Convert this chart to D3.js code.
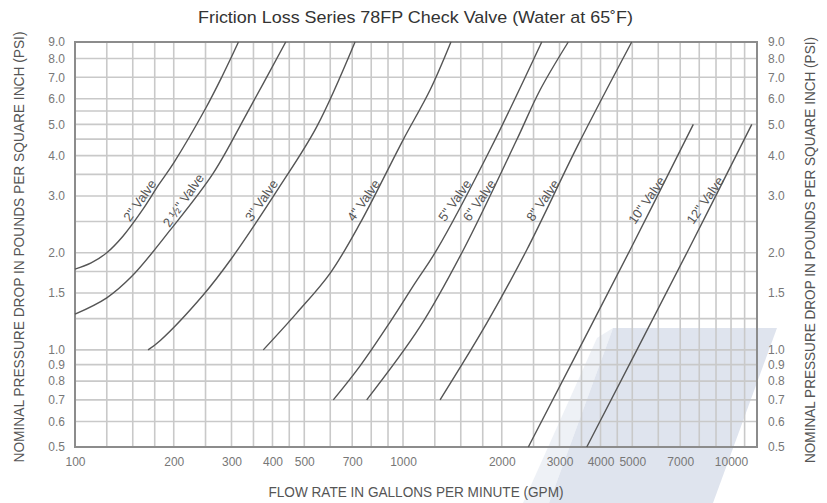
<!DOCTYPE html>
<html><head><meta charset="utf-8">
<script src="https://cdn.jsdelivr.net/npm/d3@7"></script>
<style>body{margin:0;background:#fff}svg{display:block}</style>
</head><body><svg id="c" width="827" height="503"></svg>
<script>
const title = "Friction Loss Series 78FP Check Valve (Water at 65˚F)";
const xAxisTitle = "FLOW RATE IN GALLONS PER MINUTE (GPM)";
const yAxisTitle = "NOMINAL PRESSURE DROP IN POUNDS PER SQUARE INCH (PSI)";

const xTickValues = [100,200,300,400,500,700,1000,2000,3000,4000,5000,7000,10000];
const xGridValues = [100,125,150,175,200,250,300,350,400,450,500,600,700,800,900,
                     1000,1250,1500,1750,2000,2500,3000,3500,4000,4500,5000,6000,7000,8000,9000,10000,11000];
const yTickValues = [0.5,0.6,0.7,0.8,0.9,1.0,1.5,2.0,3.0,4.0,5.0,6.0,7.0,8.0,9.0];
const yGridValues = [0.5,0.6,0.7,0.8,0.9,1.0,1.25,1.5,1.75,2.0,2.5,3.0,3.5,4.0,4.5,5.0,5.5,6.0,7.0,8.0,9.0];

const valveNames = ['2" Valve','2 ½" Valve','3" Valve','4" Valve','5" Valve','6" Valve','8" Valve','10" Valve','12" Valve'];

const flow2   = [100,112,125,140,160,180,200,250,280,315];
const psi2    = [1.78,1.86,2.0,2.25,2.7,3.25,3.8,5.6,7.0,9.0];
const flow2h  = [100,125,149,195,264,334,439];
const psi2h   = [1.29,1.45,1.69,2.35,3.53,5.4,9.0];
const flow3   = [167,182,246,300,420,546,714];
const psi3    = [1.0,1.07,1.48,1.92,3.2,4.92,9.0];
const flow4   = [375,474,600,740,1000,1210,1400];
const psi4    = [1.0,1.3,1.73,2.47,4.47,6.4,9.0];
const flow5   = [613,739,913,1088,1267,1842,2648];
const psi5    = [0.7,0.891,1.22,1.61,2.04,4.17,9.0];
const flow6   = [775,1127,1527,2220,2617,3190];
const psi6    = [0.7,1.18,2.04,4.47,6.39,9.0];
const flow8   = [1297,1800,2383,3417,4980];
const psi8    = [0.7,1.21,2.04,4.32,9.0];
const flow10  = [2410,4923,7674];
const psi10   = [0.5,2.04,5.0];
const flow12  = [3632,7410,11570];
const psi12   = [0.5,2.04,5.0];

const labelPsi = 2.82;

const flows = [flow2,flow2h,flow3,flow4,flow5,flow6,flow8,flow10,flow12];
const psis  = [psi2,psi2h,psi3,psi4,psi5,psi6,psi8,psi10,psi12];
const series = valveNames.map((n,i)=>({name:n, pts: flows[i].map((f,j)=>({f, p: psis[i][j]}))}));

const svg = d3.select("#c");
const W = 827, H = 503;
const x = d3.scaleLog().domain([100,12000]).range([75,757]);
const y = d3.scaleLog().domain([0.5,9]).range([447,42]);

const font = "'Liberation Sans',Arial,sans-serif";

svg.append("rect").attr("width",W).attr("height",H).attr("fill","#fff");

// watermark (background decoration)
svg.append("polygon").attr("points","597,338 613,328 549,503 523,503").attr("fill","#eef1f6");
svg.append("polygon").attr("points","613,328 777,328 713,503 549,503").attr("fill","#dfe4ee");

const grid = svg.append("g").attr("stroke","#c9c9c9").attr("stroke-width",1.6);
grid.selectAll("line.v").data(xGridValues).join("line").attr("class","v")
  .attr("x1",d=>x(d)).attr("x2",d=>x(d)).attr("y1",y(0.5)).attr("y2",y(9));
grid.selectAll("line.h").data(yGridValues).join("line").attr("class","h")
  .attr("y1",d=>y(d)).attr("y2",d=>y(d)).attr("x1",x(100)).attr("x2",x(12000));

svg.append("rect").attr("x",x(100)).attr("y",y(9)).attr("width",x(12000)-x(100)).attr("height",y(0.5)-y(9))
  .attr("fill","none").attr("stroke","#8c8c8c").attr("stroke-width",2);

const line = d3.line().x(d=>x(d.f)).y(d=>y(d.p)).curve(d3.curveCatmullRom.alpha(0.5));
svg.append("g").selectAll("path").data(series).join("path")
  .attr("d",d=>line(d.pts)).attr("fill","none").attr("stroke","#555").attr("stroke-width",1.4);

function pointAt(pts, p){
  for(let i=0;i<pts.length-1;i++){
    const a=pts[i], b=pts[i+1];
    if(a.p<=p && b.p>=p){
      const t=(Math.log(p)-Math.log(a.p))/(Math.log(b.p)-Math.log(a.p));
      const lf=Math.log(a.f)+t*(Math.log(b.f)-Math.log(a.f));
      return [x(Math.exp(lf)), y(p)];
    }
  }
  return [x(pts[0].f), y(pts[0].p)];
}
svg.append("g").selectAll("text").data(series).join("text")
  .attr("transform",d=>{const [px,py]=pointAt(d.pts,labelPsi);return `translate(${px},${py}) rotate(-55)`;})
  .attr("dy",-3).attr("text-anchor","middle")
  .attr("font-family",font).attr("font-size",13).attr("fill","#555")
  .text(d=>d.name);

// axis tick labels
const fmtY = d3.format(".1f");
const yAxisL = d3.axisLeft(y).tickValues(yTickValues).tickFormat(fmtY).tickSize(0).tickPadding(10);
const gL = svg.append("g").attr("transform",`translate(${x(100)},0)`).call(yAxisL);
const yAxisR = d3.axisRight(y).tickValues(yTickValues).tickFormat(fmtY).tickSize(0).tickPadding(11);
const gR = svg.append("g").attr("transform",`translate(${x(12000)},0)`).call(yAxisR);
const xAxis = d3.axisBottom(x).tickValues(xTickValues).tickFormat(d3.format("d")).tickSize(0).tickPadding(10);
const gB = svg.append("g").attr("transform",`translate(0,${y(0.5)})`).call(xAxis);
[gL,gR,gB].forEach(g=>{
  g.select(".domain").remove();
  g.selectAll("text").attr("font-family",font).attr("font-size",12).attr("fill","#777");
});

svg.append("text").attr("x",415.5).attr("y",23).attr("text-anchor","middle")
  .attr("font-family",font).attr("font-size",17).attr("fill","#333")
  .attr("textLength",435).attr("lengthAdjust","spacingAndGlyphs").text(title);
svg.append("text").attr("x",416).attr("y",497).attr("text-anchor","middle")
  .attr("font-family",font).attr("font-size",14).attr("fill","#555")
  .attr("textLength",295).attr("lengthAdjust","spacingAndGlyphs").text(xAxisTitle);
svg.append("text").attr("transform","translate(24,247) rotate(-90)").attr("text-anchor","middle")
  .attr("font-family",font).attr("font-size",14).attr("fill","#555")
  .attr("textLength",431).attr("lengthAdjust","spacingAndGlyphs").text(yAxisTitle);
svg.append("text").attr("transform","translate(815,250) rotate(-90)").attr("text-anchor","middle")
  .attr("font-family",font).attr("font-size",14).attr("fill","#555")
  .attr("textLength",426).attr("lengthAdjust","spacingAndGlyphs").text(yAxisTitle);
</script></body></html>
